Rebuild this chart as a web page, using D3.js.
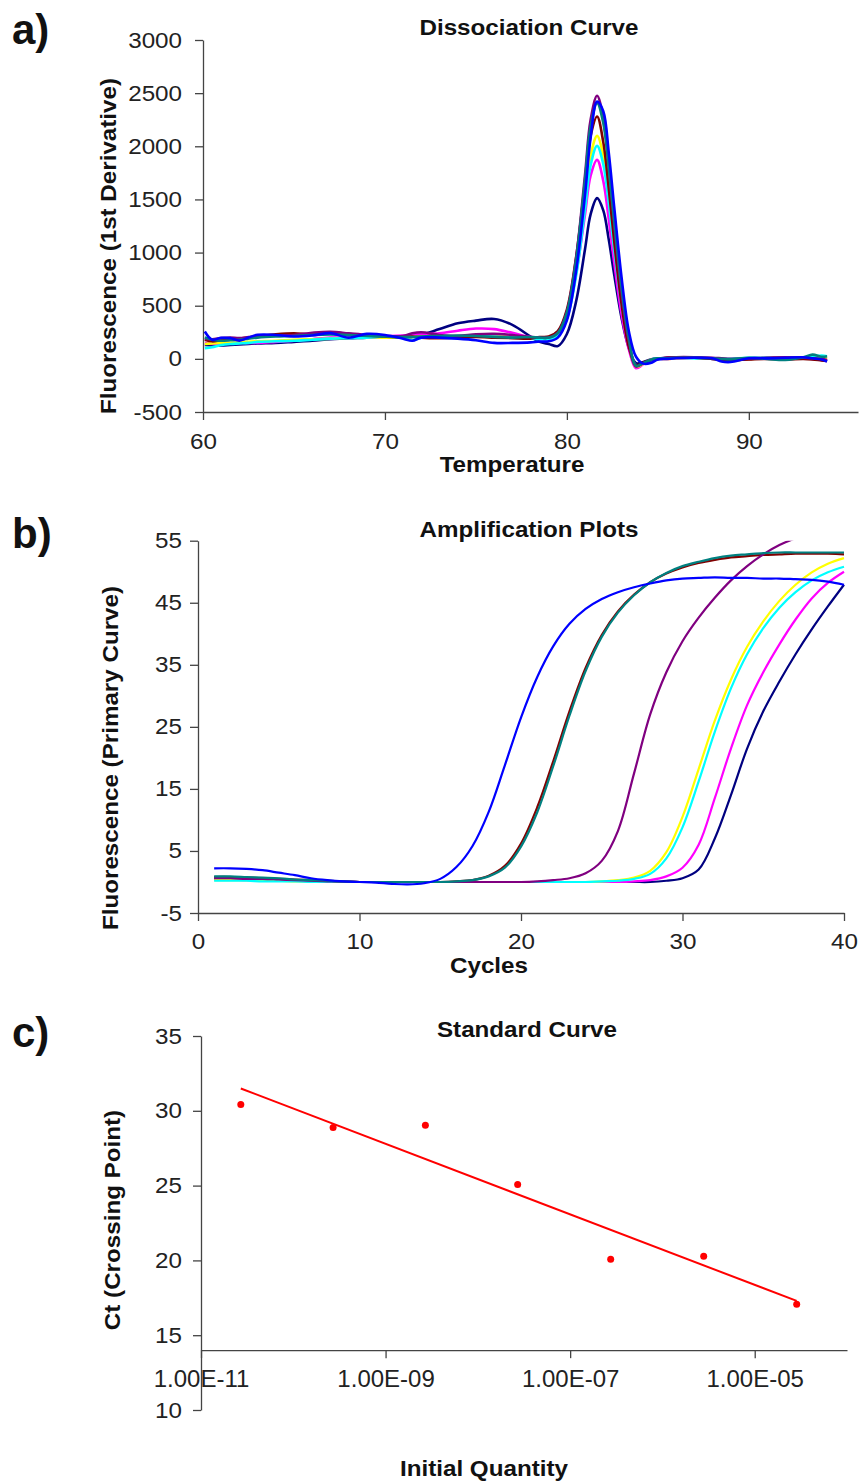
<!DOCTYPE html>
<html>
<head>
<meta charset="utf-8">
<script src="https://cdn.jsdelivr.net/npm/d3@7"></script>
<style>
  body { margin: 0; background: #fff; }
  svg text { font-family: "Liberation Sans", Arial, sans-serif; fill: #111; }
  .tick text { font-size: 22px; fill: #222; transform-box: fill-box; transform-origin: 50% 50%; transform: scaleX(1.1); }
  .yax .tick text { transform-origin: 100% 50%; }
  .qax .tick text { font-size: 24px; transform: none; }
  .domain, .tick line { stroke: #444; stroke-width: 1.3px; }
  .ttl { font-size: 22px; font-weight: bold; transform-box: fill-box; transform-origin: 50% 50%; transform: scaleX(1.1); }
  .panel { font-size: 42px; font-weight: bold; }
</style>
</head>
<body>
<div id="chart"></div>
<script>
// ---- a) dissociation curve data
const tempC = [60.1, 60.5, 61, 61.5, 62, 62.5, 63, 64, 65, 66, 67, 68, 69, 70, 71, 71.5, 72, 73, 74, 75, 76, 77, 78, 78.5,
  79, 79.5, 80, 80.5, 81, 81.3, 81.66, 82, 82.3, 82.6, 83, 83.4, 83.8, 84.2, 84.6, 85,
  85.5, 86, 87, 88, 88.5, 89, 90, 91, 92, 93, 93.5, 94, 94.3];

const dNavy = [130, 125, 125, 130, 135, 140, 145, 150, 160, 170, 185, 195, 200, 210, 210, 205, 225, 280, 335, 360, 375, 320, 210, 160,
  140, 120, 234, 536, 1036, 1357, 1512, 1397, 1124, 794, 389, 105, -40, -30, -5, 5,
  10, 15, 10, 0, -10, -15, 0, 10, 15, 10, 0, -10, -15];
const dMagenta = [150, 140, 145, 145, 150, 150, 150, 160, 170, 185, 200, 200, 200, 210, 220, 225, 235, 240, 265, 285, 280, 245, 205, 200,
  200, 241, 404, 795, 1364, 1721, 1872, 1673, 1316, 908, 426, 94, -88, -50, -10, 0,
  0, 5, 10, 5, -5, -10, 0, 5, 10, 5, 0, -5, -10];
const dYellow = [140, 145, 150, 150, 155, 160, 165, 170, 180, 185, 190, 200, 205, 200, 200, 205, 210, 205, 200, 210, 215, 205, 195, 190,
  190, 226, 393, 810, 1480, 1906, 2098, 1917, 1538, 1080, 539, 146, -75, -45, -10, 0,
  0, 5, 10, 5, 0, -5, 0, 5, 10, 5, 10, 15, 10];
const dCyan = [100, 110, 130, 140, 145, 150, 160, 165, 170, 180, 190, 195, 200, 210, 195, 175, 200, 205, 200, 210, 210, 200, 190, 185,
  185, 220, 379, 776, 1414, 1820, 2004, 1832, 1469, 1032, 515, 139, -60, -40, -10, 5,
  5, 10, 5, 5, 0, 0, 10, 10, 5, 10, 20, 30, 25];
const dMaroon = [180, 165, 175, 180, 190, 200, 210, 230, 240, 230, 250, 235, 220, 210, 205, 210, 200, 195, 200, 205, 200, 195, 190, 205,
  210, 261, 464, 949, 1653, 2093, 2280, 2039, 1605, 1108, 520, 114, -60, -35, -10, 0,
  10, 15, 10, 0, -5, -10, -5, 0, -5, 0, -5, -15, -20];
const dPurple = [190, 185, 195, 200, 195, 205, 215, 220, 225, 245, 255, 240, 225, 215, 215, 240, 250, 225, 215, 230, 235, 225, 205, 200,
  200, 244, 443, 940, 1739, 2246, 2475, 2263, 1816, 1275, 637, 172, -72, -40, -15, 0,
  10, 15, 15, 10, 5, 0, 5, 10, 15, 10, 5, 0, -10];
const dTeal = [200, 180, 170, 175, 180, 190, 200, 210, 215, 225, 230, 225, 215, 210, 205, 205, 210, 215, 220, 215, 205, 200, 205, 200,
  200, 243, 436, 918, 1692, 2183, 2406, 2220, 1800, 1300, 680, 200, -65, -40, -10, 5,
  5, 10, 10, 5, 0, -5, 10, 0, -10, 15, 40, 20, 25];
const dBlue = [257, 180, 198, 195, 172, 200, 226, 225, 210, 220, 242, 200, 235, 225, 190, 170, 200, 200, 190, 175, 150, 150, 155, 163,
  165, 200, 363, 818, 1547, 2076, 2420, 2330, 1942, 1430, 774, 265, 20, -45, -40, -5,
  0, 5, 10, 5, -25, -30, 5, 5, 10, 15, 5, -5, -25];

// ---- b) amplification plot data
const cycles = [1, 2, 3, 4, 5, 6, 7, 8, 9, 10, 11, 12, 13, 14, 15, 16, 17, 18, 19, 20,
  21, 22, 23, 24, 25, 26, 27, 28, 29, 30, 31, 32, 33, 34, 35, 36, 37, 38, 39, 40];

const aNavy = [0.5, 0.5, 0.4, 0.4, 0.3, 0.2, 0.2, 0.1, 0, 0, 0, 0, 0, 0, 0, 0, 0, 0, 0, 0,
  0, 0, 0, 0, 0, 0, 0, 0, 0.2, 0.6, 2.0, 7.0, 14.0, 21.5, 27.5, 32.3, 36.7, 40.7, 44.4, 47.9];
const aMagenta = [0.4, 0.4, 0.3, 0.3, 0.2, 0.2, 0.1, 0.1, 0, 0, 0, 0, 0, 0, 0, 0, 0, 0, 0, 0,
  0, 0, 0, 0, 0, 0, 0.1, 0.3, 0.9, 2.3, 6.0, 13.5, 21.5, 28.5, 33.8, 38.3, 42.3, 45.7, 48.2, 50.0];
const aYellow = [0.3, 0.3, 0.3, 0.2, 0.2, 0.1, 0.1, 0.1, 0, 0, 0, 0, 0, 0, 0, 0, 0, 0, 0, 0,
  0, 0, 0, 0, 0.1, 0.3, 0.7, 1.8, 4.8, 10.5, 18.2, 26.0, 32.6, 37.9, 42.0, 45.3, 47.9, 49.9, 51.3, 52.2];
const aCyan = [0.2, 0.2, 0.2, 0.1, 0.1, 0.1, 0, 0, 0, 0, 0, 0, 0, 0, 0, 0, 0, 0, 0, 0,
  0, 0, 0, 0, 0.1, 0.2, 0.5, 1.3, 3.8, 8.8, 16.2, 24.2, 31.2, 36.7, 40.9, 44.2, 46.7, 48.6, 49.9, 50.8];
const aMaroon = [0.8, 0.8, 0.7, 0.6, 0.5, 0.4, 0.3, 0.2, 0.1, 0, 0, 0, 0, 0, 0, 0.1, 0.3, 1.0, 2.6, 6.2,
  12.0, 19.5, 27.5, 34.5, 39.8, 43.6, 46.3, 48.3, 49.7, 50.7, 51.4, 51.9, 52.3, 52.5, 52.7, 52.8, 52.9, 52.9, 52.9, 52.8];
const aPurple = [0.6, 0.6, 0.5, 0.5, 0.4, 0.3, 0.2, 0.1, 0.1, 0, 0, 0, 0, 0, 0, 0, 0, 0, 0, 0,
  0.1, 0.3, 0.6, 1.4, 3.4, 8.2, 17.5, 27.0, 33.8, 38.8, 42.6, 45.8, 48.6, 50.9, 52.8, 54.3, 55.4, 56.3, 57.0, 57.5];
const aTeal = [0.9, 0.9, 0.8, 0.7, 0.6, 0.4, 0.3, 0.2, 0.1, 0, 0, 0, 0, 0, 0, 0.1, 0.3, 0.9, 2.3, 5.7,
  11.2, 18.7, 26.8, 34.0, 39.5, 43.4, 46.2, 48.3, 49.8, 50.9, 51.6, 52.2, 52.6, 52.8, 53.0, 53.1, 53.1, 53.1, 53.1, 53.1];
const aBlue = [2.2, 2.2, 2.1, 1.9, 1.5, 1.1, 0.6, 0.3, 0.1, 0, -0.1, -0.3, -0.4, -0.2, 0.5, 2.4, 5.8, 11.3, 18.8, 26.5,
  33.0, 38.0, 41.6, 44.0, 45.6, 46.7, 47.5, 48.1, 48.6, 48.9, 49.0, 49.1, 49.0, 49.0, 48.9, 48.9, 48.8, 48.7, 48.4, 47.9];

// ---- c) standard curve data
const quantity = [2.7e-11, 2.7e-10, 2.7e-9, 2.7e-8, 2.75e-7, 2.8e-6, 2.85e-5];
const ctValue = [30.42, 28.89, 29.04, 25.07, 20.07, 20.27, 17.07];
const qTicks = [1e-11, 1e-9, 1e-7, 1e-5];
const qTickLabels = ["1.00E-11", "1.00E-09", "1.00E-07", "1.00E-05"];

const colors = {
  navy: "#000080", magenta: "#FF00FF", yellow: "#FFFF00", cyan: "#00FFFF",
  maroon: "#800000", purple: "#800080", teal: "#008080", blue: "#0000FF"
};
const order = ["navy", "magenta", "yellow", "cyan", "maroon", "purple", "teal", "blue"];
const dissoc = { navy: dNavy, magenta: dMagenta, yellow: dYellow, cyan: dCyan, maroon: dMaroon, purple: dPurple, teal: dTeal, blue: dBlue };
const ampl = { navy: aNavy, magenta: aMagenta, yellow: aYellow, cyan: aCyan, maroon: aMaroon, purple: aPurple, teal: aTeal, blue: aBlue };

const plain = d => String(d);

const svg = d3.select("#chart").append("svg")
  .attr("width", 861)
  .attr("height", 1484);

function title(x, y, txt) {
  svg.append("text").attr("class", "ttl").attr("x", x).attr("y", y)
    .attr("text-anchor", "middle").text(txt);
}
function yTitle(x, y, txt) {
  svg.append("g").attr("transform", `translate(${x},${y}) rotate(-90)`)
    .append("text").attr("class", "ttl")
    .attr("text-anchor", "middle").text(txt);
}
function panel(x, y, txt) {
  svg.append("text").attr("class", "panel").attr("x", x).attr("y", y).text(txt);
}

// ===== a) Dissociation Curve
const xa = d3.scaleLinear().domain([60, 96]).range([203, 858]);
const ya = d3.scaleLinear().domain([-500, 3000]).range([412, 40]);

svg.append("g").attr("transform", `translate(0,${ya(-500)})`)
  .call(d3.axisBottom(xa).tickValues([60, 70, 80, 90]).tickFormat(plain).tickSize(8).tickSizeOuter(0).tickPadding(13));
svg.append("g").attr("class", "yax").attr("transform", `translate(${xa(60)},0)`)
  .call(d3.axisLeft(ya).tickValues(d3.range(-500, 3001, 500)).tickFormat(plain).tickSize(8).tickSizeOuter(0).tickPadding(13));

const lineA = d3.line().x(d => xa(d[0])).y(d => ya(d[1])).curve(d3.curveCatmullRom);
svg.append("g").selectAll("path")
  .data(order)
  .join("path")
  .attr("fill", "none")
  .attr("stroke", k => colors[k])
  .attr("stroke-width", 2.6)
  .attr("stroke-linejoin", "round")
  .attr("d", k => lineA(d3.zip(tempC, dissoc[k])));

panel(12, 44, "a)");
title(529, 35, "Dissociation Curve");
title(512, 472, "Temperature");
yTitle(116, 246, "Fluorescence (1st Derivative)");

// ===== b) Amplification Plots
const xb = d3.scaleLinear().domain([0, 40]).range([198, 844]);
const yb = d3.scaleLinear().domain([-5, 55]).range([913, 540.7]);

svg.append("g").attr("transform", `translate(0,${yb(-5)})`)
  .call(d3.axisBottom(xb).tickValues([0, 10, 20, 30, 40]).tickFormat(plain).tickSize(8).tickSizeOuter(0).tickPadding(12));
svg.append("g").attr("class", "yax").attr("transform", `translate(${xb(0)},0)`)
  .call(d3.axisLeft(yb).tickValues(d3.range(-5, 56, 10)).tickFormat(plain).tickSize(8).tickSizeOuter(0).tickPadding(8));

svg.append("clipPath").attr("id", "clipB")
  .append("rect").attr("x", xb(0)).attr("y", yb(55)).attr("width", xb(40) - xb(0) + 2).attr("height", yb(-5) - yb(55));

const lineB = d3.line().x(d => xb(d[0])).y(d => yb(d[1])).curve(d3.curveCatmullRom);
svg.append("g").attr("clip-path", "url(#clipB)").selectAll("path")
  .data(order)
  .join("path")
  .attr("fill", "none")
  .attr("stroke", k => colors[k])
  .attr("stroke-width", 2.2)
  .attr("d", k => lineB(d3.zip(cycles, ampl[k])));

panel(12, 548, "b)");
title(529, 537, "Amplification Plots");
title(489, 973, "Cycles");
yTitle(118, 758, "Fluorescence (Primary Curve)");

// ===== c) Standard Curve
const xc = d3.scaleLog().domain([1e-11, 1e-4]).range([201, 847]);
const yc = d3.scaleLinear().domain([10, 35]).range([1410, 1036]);

svg.append("g").attr("class", "yax").attr("transform", `translate(${xc(1e-11)},0)`)
  .call(d3.axisLeft(yc).tickValues([10, 15, 20, 25, 30, 35]).tickFormat(plain).tickSize(8).tickSizeOuter(0).tickPadding(11));
svg.append("g").attr("class", "qax").attr("transform", `translate(0,${yc(14)})`)
  .call(d3.axisBottom(xc).tickValues(qTicks).tickFormat((d, i) => qTickLabels[i])
    .tickSize(8).tickSizeOuter(0).tickPadding(12));

// least squares fit in log space
const lx = quantity.map(Math.log10);
const mx = d3.mean(lx), my = d3.mean(ctValue);
const slope = d3.sum(lx, (v, i) => (v - mx) * (ctValue[i] - my)) / d3.sum(lx, v => (v - mx) * (v - mx));
const fitEnds = [quantity[0], quantity[quantity.length - 1]];

svg.append("line")
  .attr("x1", xc(fitEnds[0])).attr("y1", yc(my + slope * (Math.log10(fitEnds[0]) - mx)))
  .attr("x2", xc(fitEnds[1])).attr("y2", yc(my + slope * (Math.log10(fitEnds[1]) - mx)))
  .attr("stroke", "#FF0000").attr("stroke-width", 2);

svg.append("g").selectAll("circle")
  .data(d3.zip(quantity, ctValue))
  .join("circle")
  .attr("cx", d => xc(d[0]))
  .attr("cy", d => yc(d[1]))
  .attr("r", 3.5)
  .attr("fill", "#FF0000");

panel(12, 1047, "c)");
title(527, 1037, "Standard Curve");
title(484, 1476, "Initial Quantity");
yTitle(120, 1220, "Ct (Crossing Point)");
</script>
</body>
</html>
